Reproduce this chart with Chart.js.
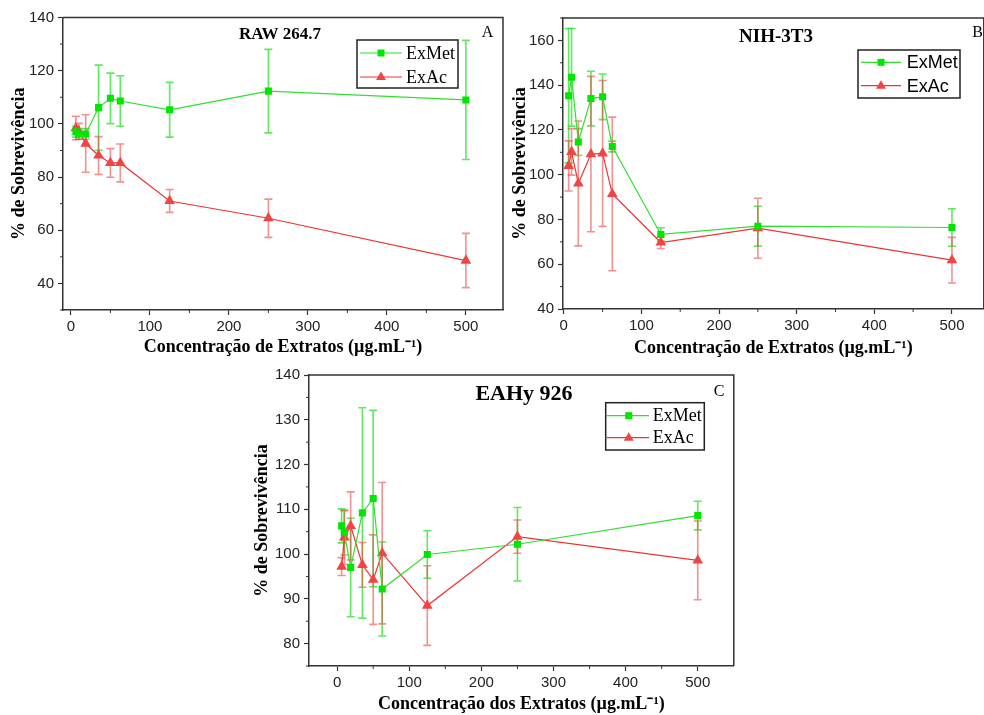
<!DOCTYPE html>
<html>
<head>
<meta charset="utf-8">
<script src="https://cdn.jsdelivr.net/npm/chart.js@4.4.1/dist/chart.umd.min.js"></script>
<style>
  html, body { margin: 0; padding: 0; background: #fff; overflow: hidden; }
  #wrap { position: relative; width: 984px; height: 715px; }
  canvas { position: absolute; }
</style>
</head>
<body>
<div id="wrap">
  <canvas id="chartA" width="510" height="362" style="left:0px;top:0px"></canvas>
  <canvas id="chartB" width="500" height="362" style="left:490px;top:0px"></canvas>
  <canvas id="chartC" width="500" height="355" style="left:240px;top:360px"></canvas>
</div>
<script>
// Concentrations (µg/mL)
const concentrations = [6.25, 10, 18.75, 35, 50, 62.5, 125, 250, 500]

// RAW 264.7
const rawExMet = [97.0, 96.2, 96.2, 106.1, 109.6, 108.6, 105.3, 112.3, 109.0]
const rawExMetErr = [2, 2, 2, 16, 9.5, 9.5, 10.3, 15.7, 22.4]
const rawExAc = [98.4, 97.2, 92.6, 88.1, 85.3, 85.3, 71.0, 64.5, 48.6]
const rawExAcErr = [4.4, 3, 10.8, 7.1, 5.4, 7.1, 4.3, 7.2, 10.2]

// NIH-3T3
const nihExMet = [135.3, 143.5, 114.6, 134.0, 134.8, 112.6, 73.3, 77.0, 76.4]
const nihExMetErr = [30, 21.8, 6, 12.2, 10.2, 2.4, 3, 8.9, 8.4]
const nihExAc = [103.9, 110.2, 96.1, 109.2, 109.5, 91.4, 69.7, 76.1, 61.8]
const nihExAcErr = [11.2, 10.4, 27.9, 34.7, 32.6, 34.3, 2.7, 13.4, 10.2]

// EAHy 926
const eaExMet = [106.3, 104.8, 97.0, 109.2, 112.4, 92.2, 99.9, 102.2, 108.6]
const eaExMetErr = [3.8, 5, 11, 23.5, 19.7, 10.5, 5.3, 8.2, 3.2]
const eaExAc = [97.2, 103.7, 106.3, 97.6, 94.3, 100.2, 88.5, 103.9, 98.6]
const eaExAcErr = [2, 6, 7.6, 5, 10, 15.8, 8.9, 3.7, 8.8]

// Tick labels
const xTicks = [0, 100, 200, 300, 400, 500]
const xMinor = [50, 150, 250, 350, 450]
const yTicksA = [40, 60, 80, 100, 120, 140]
const yMinorA = [30, 50, 70, 90, 110, 130]
const yTicksB = [40, 60, 80, 100, 120, 140, 160]
const yMinorB = [50, 70, 90, 110, 130, 150, 170]
const yTicksC = [80, 90, 100, 110, 120, 130, 140]
const yMinorC = [75, 85, 95, 105, 115, 125, 135]

const seriesNames = ["ExMet", "ExAc"]
const GREEN = "#00e600"
const GREEN_LINE = "#2fe02f"
const GREEN_ERR = "rgba(40, 225, 40, 0.75)"
const RED = "#f04545"
const RED_LINE = "#ee3535"
const RED_ERR = "rgba(235, 70, 70, 0.6)"
const AXIS = "#333"
const SERIF = "'Liberation Serif', 'Times New Roman', serif"
const SANS = "'Liberation Sans', Arial, sans-serif"

// Error bars, frame, minor ticks, in-plot title and legend
const panelPlugin = {
  id: "panel",
  beforeDatasetsDraw(chart) {
    const ctx = chart.ctx
    const { x, y } = chart.scales
    chart.data.datasets.forEach(ds => {
      ctx.save()
      ctx.strokeStyle = ds.errorColor
      ctx.lineWidth = 1.6
      ds.data.forEach((p, j) => {
        const e = ds.errors[j]
        const px = x.getPixelForValue(p.x)
        const top = y.getPixelForValue(p.y + e)
        const bot = y.getPixelForValue(p.y - e)
        ctx.beginPath()
        ctx.moveTo(px, top); ctx.lineTo(px, bot)
        ctx.moveTo(px - 4, top); ctx.lineTo(px + 4, top)
        ctx.moveTo(px - 4, bot); ctx.lineTo(px + 4, bot)
        ctx.stroke()
      })
      ctx.restore()
    })
  },
  afterDraw(chart, args, opts) {
    const ctx = chart.ctx
    const { x, y } = chart.scales
    const a = chart.chartArea
    ctx.save()

    // top and right frame
    ctx.strokeStyle = AXIS
    ctx.lineWidth = 1.5
    ctx.beginPath()
    ctx.moveTo(a.left, a.top); ctx.lineTo(a.right, a.top); ctx.lineTo(a.right, a.bottom)
    ctx.stroke()

    // minor ticks
    ctx.lineWidth = 1
    ctx.beginPath()
    opts.minorX.forEach(v => {
      const px = x.getPixelForValue(v)
      ctx.moveTo(px, a.bottom); ctx.lineTo(px, a.bottom + 3)
    })
    opts.minorY.forEach(v => {
      const py = y.getPixelForValue(v)
      ctx.moveTo(a.left, py); ctx.lineTo(a.left - 3, py)
    })
    ctx.stroke()

    // panel title and letter
    ctx.fillStyle = "#000"
    ctx.textAlign = "center"
    ctx.textBaseline = "middle"
    ctx.font = `bold ${opts.title.size}px ${SERIF}`
    ctx.fillText(opts.title.text, opts.title.x, opts.title.y)
    ctx.font = `16px ${SERIF}`
    ctx.fillText(opts.letter.text, opts.letter.x, opts.letter.y)

    // legend
    const lg = opts.legend
    ctx.strokeStyle = "#222"
    ctx.lineWidth = 1.5
    ctx.strokeRect(lg.left, lg.top, lg.width, lg.height)
    chart.data.datasets.forEach((ds, i) => {
      const ry = lg.rows[i]
      ctx.strokeStyle = ds.borderColor
      ctx.lineWidth = 1.2
      ctx.beginPath()
      ctx.moveTo(lg.lineX1, ry); ctx.lineTo(lg.lineX2, ry)
      ctx.stroke()
      ctx.fillStyle = ds.pointBackgroundColor
      ctx.beginPath()
      if (ds.pointStyle === "rect") {
        ctx.rect(lg.markerX - 3.5, ry - 3.5, 7, 7)
      } else {
        ctx.moveTo(lg.markerX, ry - 5.5)
        ctx.lineTo(lg.markerX + 5, ry + 3)
        ctx.lineTo(lg.markerX - 5, ry + 3)
        ctx.closePath()
      }
      ctx.fill()
      ctx.fillStyle = "#000"
      ctx.textAlign = "left"
      ctx.font = `18px ${lg.family}`
      ctx.fillText(ds.label, lg.textX, ry + 1)
    })
    ctx.restore()
  }
}

function makeDatasets(met, metErr, ac, acErr) {
  return [
    {
      label: seriesNames[0],
      data: concentrations.map((c, i) => ({ x: c, y: met[i] })),
      errors: metErr,
      errorColor: GREEN_ERR,
      borderColor: GREEN_LINE,
      borderWidth: 1.2,
      pointStyle: "rect",
      pointRadius: 5,
      pointBackgroundColor: GREEN,
      pointBorderColor: GREEN,
      pointBorderWidth: 0,
      tension: 0,
    },
    {
      label: seriesNames[1],
      data: concentrations.map((c, i) => ({ x: c, y: ac[i] })),
      errors: acErr,
      errorColor: RED_ERR,
      borderColor: RED_LINE,
      borderWidth: 1.2,
      pointStyle: "triangle",
      pointRadius: 6.2,
      pointBackgroundColor: RED,
      pointBorderColor: RED,
      pointBorderWidth: 0,
      tension: 0,
    },
  ]
}

function makeChart(id, cfg) {
  const tickFont = { family: SANS, size: 15 }
  const titleFont = { family: SERIF, size: 18, weight: "bold" }
  return new Chart(document.getElementById(id), {
    type: "line",
    data: { datasets: makeDatasets(...cfg.series) },
    plugins: [panelPlugin],
    options: {
      responsive: false,
      animation: false,
      layout: { padding: cfg.padding },
      plugins: {
        legend: { display: false },
        tooltip: { enabled: false },
        panel: cfg.panel,
      },
      scales: {
        x: {
          type: "linear",
          min: cfg.xMin,
          max: cfg.xMax,
          afterBuildTicks: (s) => { s.ticks = xTicks.map(v => ({ value: v })) },
          afterFit: (s) => { s.height = cfg.xHeight },
          grid: { drawOnChartArea: false, tickLength: 5, tickColor: AXIS, tickWidth: 1.2 },
          border: { color: AXIS, width: 1.5 },
          ticks: { font: tickFont, color: "#222", padding: 3, maxRotation: 0 },
          title: { display: true, text: cfg.xTitle, font: titleFont, color: "#000", padding: { top: 0, bottom: cfg.xTitlePad } },
        },
        y: {
          min: cfg.yMin,
          max: cfg.yMax,
          afterBuildTicks: (s) => { s.ticks = cfg.yTicks.map(v => ({ value: v })) },
          afterFit: (s) => { s.width = cfg.yWidth },
          grid: { drawOnChartArea: false, tickLength: 5, tickColor: AXIS, tickWidth: 1.2 },
          border: { color: AXIS, width: 1.5 },
          ticks: { font: tickFont, color: "#222", padding: 4 },
          title: { display: true, text: "% de Sobrevivência", font: titleFont, color: "#000", padding: { top: cfg.yTitlePad, bottom: 0 } },
        },
      },
    },
  })
}

makeChart("chartA", {
  series: [rawExMet, rawExMetErr, rawExAc, rawExAcErr],
  padding: { left: 0, top: 17.5, right: 7, bottom: 0 },
  xMin: -10, xMax: 547, yMin: 30, yMax: 140,
  yTicks: yTicksA, xHeight: 52, yWidth: 63,
  xTitle: "Concentração de Extratos (µg.mL⁻¹)", xTitlePad: 4.2, yTitlePad: 8.2,
  panel: {
    minorX: xMinor, minorY: yMinorA,
    title: { text: "RAW 264.7", x: 280, y: 35, size: 17 },
    letter: { text: "A", x: 487.5, y: 33 },
    legend: { left: 357, top: 40, width: 101, height: 48, lineX1: 360, lineX2: 402, markerX: 381, textX: 406, rows: [53, 77], family: SERIF },
  },
})

makeChart("chartB", {
  series: [nihExMet, nihExMetErr, nihExAc, nihExAcErr],
  padding: { left: 0, top: 18, right: 1, bottom: 0 },
  xMin: -1, xMax: 541, yMin: 40, yMax: 170,
  yTicks: yTicksB, xHeight: 53, yWidth: 73,
  xTitle: "Concentração de Extratos (µg.mL⁻¹)", xTitlePad: 3.2, yTitlePad: 19.2,
  panel: {
    minorX: xMinor, minorY: yMinorB,
    title: { text: "NIH-3T3", x: 286, y: 37.5, size: 19 },
    letter: { text: "B", x: 487.5, y: 33 },
    legend: { left: 368, top: 50, width: 102, height: 48, lineX1: 371, lineX2: 411, markerX: 391, textX: 416.7, rows: [62.3, 85.7], family: SANS },
  },
})

makeChart("chartC", {
  series: [eaExMet, eaExMetErr, eaExAc, eaExAcErr],
  padding: { left: 0, top: 15, right: 3, bottom: 0 },
  xMin: -39, xMax: 550, yMin: 75, yMax: 140,
  yTicks: yTicksC, xHeight: 49, yWidth: 69,
  xTitle: "Concentração dos Extratos (µg.mL⁻¹)", xTitlePad: 0, yTitlePad: 11.2,
  panel: {
    minorX: xMinor, minorY: yMinorC,
    title: { text: "EAHy 926", x: 284, y: 34, size: 22 },
    letter: { text: "C", x: 479, y: 32 },
    legend: { left: 365.7, top: 42.7, width: 98.6, height: 47.3, lineX1: 366.7, lineX2: 409, markerX: 388.7, textX: 412.7, rows: [55.7, 77.7], family: SERIF },
  },
})
</script>
</body>
</html>
